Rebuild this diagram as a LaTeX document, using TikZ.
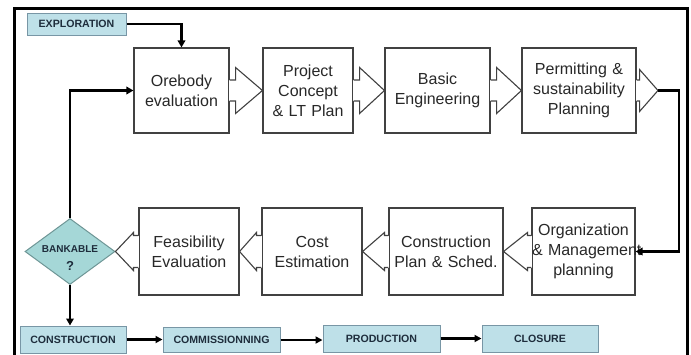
\documentclass[tikz,border=0pt]{standalone}
\usepackage{fontspec}
\setmainfont{Liberation Sans}
\usetikzlibrary{arrows.meta,calc,shapes.geometric}
\definecolor{labfill}{RGB}{190,224,232}
\definecolor{labdraw}{RGB}{120,150,165}
\definecolor{labtext}{RGB}{30,45,60}
\definecolor{diafill}{RGB}{165,215,215}
\definecolor{diadraw}{RGB}{110,150,150}
\definecolor{boxline}{RGB}{65,65,65}
\definecolor{boxtext}{RGB}{40,40,40}
\tikzset{
  procbox/.style={draw=boxline, line width=1.1pt, fill=white, inner sep=0pt, text=boxtext,
    align=center, font=\fontsize{16}{20}\selectfont},
  toprow/.style={procbox, minimum height=85pt},
  botrow/.style={procbox, minimum height=87pt},
  stagebox/.style={draw=labdraw, line width=1pt, fill=labfill, inner sep=0pt, text=labtext,
    font=\bfseries\fontsize{10.6}{12}\selectfont, minimum height=25pt},
  flow/.style={line width=2.8pt, -{Triangle[length=7pt,width=7.5pt]}},
  flowthin/.style={line width=2.3pt, -{Triangle[length=7pt,width=7pt]}},
  arrowline/.style={draw=boxline, line width=1.1pt, line join=miter},
}
% right-pointing notch arrow: box, tip, shaft, head half-height
\newcommand{\rightnotch}[4]{%
  \fill[white] ($(#1.east)+(-0.9,-10.5)$) rectangle ($(#1.east)+(0.9,10.5)$);
  \draw[arrowline, fill=white] ($(#1.east)+(0,-10.5)$) -- ($(#1.east)+(#3,-10.5)$)
    -- ($(#1.east)+(#3,-#4)$) -- (#2) -- ($(#1.east)+(#3,#4)$)
    -- ($(#1.east)+(#3,10.5)$) -- ($(#1.east)+(0,10.5)$);
}
% left-pointing notch arrow: box, tip, shaft, head half-height
\newcommand{\leftnotch}[4]{%
  \fill[white] ($(#1.west)+(-0.9,-16)$) rectangle ($(#1.west)+(0.9,16)$);
  \draw[arrowline, fill=white] ($(#1.west)+(0,-16)$) -- ($(#1.west)+(-#3,-16)$)
    -- ($(#1.west)+(-#3,-#4)$) -- (#2) -- ($(#1.west)+(-#3,#4)$)
    -- ($(#1.west)+(-#3,16)$) -- ($(#1.west)+(0,16)$);
}
\begin{document}
\begin{tikzpicture}[x=1pt,y=-1pt]
\useasboundingbox (0,0) rectangle (691,354);
\fill[white] (0,0) rectangle (691,354);
% frame
\draw[line width=3pt] (14,356) -- (14,8) -- (687,8) -- (687,356);

% top row
\node[toprow, text width=95pt]  (ore)  at (181.5,90.5) {Orebody\\evaluation};
\node[toprow, text width=90pt]  (proj) at (308,90.5)   {Project\\Concept\\\& LT Plan};
\node[toprow, text width=105pt] (basic) at (437.5,90.5) {Basic\\\mbox{Engineering}};
\node[toprow, text width=114pt] (perm) at (579,90.5)   {Permitting \&\\\mbox{sustainability}\\Planning};
\coordinate (ptip) at (658,90.5);
\rightnotch{ore}{proj.west}{6}{23}
\rightnotch{proj}{basic.west}{6}{23}
\rightnotch{basic}{perm.west}{6}{23}
\rightnotch{perm}{ptip}{3}{21}

% bottom row
\node[botrow, text width=103pt] (org)  at (583.5,251.5) {\mbox{Organization}\\\mbox{\& Management}\\planning};
\node[botrow, text width=114pt] (cps)  at (446,251.5)   {\mbox{Construction}\\\mbox{Plan \& Sched.}};
\node[botrow, text width=100pt] (cost) at (312,251.5)   {Cost\\\mbox{Estimation}};
\node[botrow, text width=100pt] (feas) at (189,251.5)   {\mbox{Feasibility}\\\mbox{Evaluation}};

% decision diamond
\node[diamond, draw=diadraw, fill=diafill, line width=1pt, aspect=1.4,
      minimum width=90pt, minimum height=66pt, inner sep=0pt] (bank) at (70,251.5) {};
\node[text=labtext, font=\bfseries\fontsize{10}{12}\selectfont] (banktxt) at (70,249) {BANKABLE};
\node[text=labtext, font=\bfseries\fontsize{13}{14}\selectfont] (bankq) at (70,266) {?};

\leftnotch{org}{cps.east}{4}{19}
\leftnotch{cps}{cost.east}{4}{19}
\leftnotch{cost}{feas.east}{5}{19}
\leftnotch{feas}{bank.east}{5}{19}

% stage boxes
\node[stagebox, minimum width=99pt, minimum height=22pt] (expl) at (76.5,24) {EXPLORATION};
\node[stagebox, minimum width=106pt, minimum height=27pt] (con) at (73,339.5) {CONSTRUCTION};
\node[stagebox, minimum width=117pt] (com) at (221.5,340) {COMMISSIONNING};
\node[stagebox, minimum width=117pt, minimum height=27pt] (prod) at (381.5,338.5) {PRODUCTION};
\node[stagebox, minimum width=116pt, minimum height=27pt] (clo) at (540,338.5) {CLOSURE};

% connectors
\draw[flow] (expl.east) -| (ore.north);
\draw[flow] (bank.north) |- (ore.west);
\draw[flow] (ptip) -- ++(21,0) |- (org.east);
\draw[flow] (bank.south) -- (bank.south |- con.north);
\draw[flowthin] (con.east) -- (con.east -| com.west);
\draw[flowthin] (com.east) -- (com.east -| prod.west);
\draw[flowthin] (prod.east) -- (prod.east -| clo.west);
\end{tikzpicture}
\end{document}
